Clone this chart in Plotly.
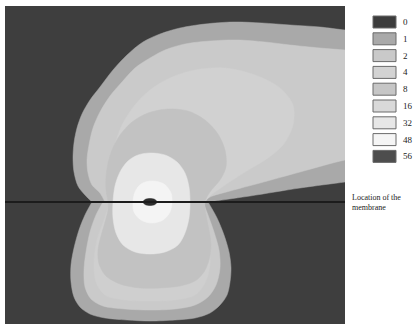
import plotly.graph_objects as go

# Outlines of each concentration band.
# x: mm from the source along the membrane, y: mm below the membrane (negative = above)
band1_up_x = [-58, -65, -72, -76, -77, -76, -73, -68, -60, -50, -37, -23, -7, 10, 30, 55, 83, 112, 140, 170, 195, 210, 210, 195, 150, 100, 58]
band1_up_y = [0, -7, -16, -30, -44, -59, -74, -88, -102, -115, -132, -147, -160, -168, -174, -178, -180, -179, -177, -175, -172, -171, -22, -20, -14, -6, 0]
band1_lo_x = [-58, -65, -71, -76, -79, -79, -76, -70, -60, -45, -23, 0, 25, 45, 60, 70, 77, 80, 81, 79, 74, 67, 58]
band1_lo_y = [0, 13, 28, 46, 63, 80, 95, 105, 112, 116, 118, 119, 118, 116, 111, 103, 93, 80, 66, 50, 33, 16, 0]

band2_up_x = [-45, -50, -58, -62, -63, -61, -57, -50, -40, -28, -15, 0, 15, 35, 60, 87, 115, 140, 170, 195, 210, 210, 195, 150, 110, 80, 60, 53]
band2_up_y = [0, -9, -17, -29, -42, -57, -74, -90, -106, -120, -134, -144, -152, -158, -161, -162, -160, -157, -154, -152, -151, -44, -42, -30, -19, -11, -5, 0]
band2_lo_x = [-47, -54, -60, -64, -66, -65, -59, -47, -25, 0, 25, 45, 58, 66, 70, 69, 64, 58, 53]
band2_lo_y = [0, 13, 30, 50, 68, 85, 97, 104, 107, 108, 107, 103, 95, 83, 66, 48, 30, 13, 0]

band4_up_x = [-35, -38, -38, -35, -28, -15, 0, 20, 45, 75, 105, 130, 143, 143, 133, 115, 95, 75, 60, 55]
band4_up_y = [0, -17, -37, -57, -77, -97, -112, -124, -132, -134, -127, -114, -97, -77, -57, -42, -30, -17, -6, 0]
band4_lo_x = [-40, -46, -53, -56, -54, -45, -25, 0, 25, 45, 55, 60, 59, 55, 53]
band4_lo_y = [0, 18, 38, 60, 80, 93, 98, 99, 98, 93, 81, 63, 43, 23, 0]

band8_x = [-42, -44, -44, -42, -38, -30, -18, -2, 18, 38, 55, 68, 75, 76, 70, 60, 55, 56, 59, 61, 59, 54, 45, 30, 10, -10, -30, -44, -51, -52, -49, -45, -42, -42]
band8_y = [0, -12, -25, -39, -52, -67, -80, -89, -93, -91, -82, -68, -52, -35, -22, -10, 0, 13, 28, 43, 58, 70, 79, 84, 86, 86, 82, 74, 62, 48, 34, 20, 8, 0]

band32_x = [0, 15, 27, 35, 39, 40, 39, 35, 28, 15, 0, -15, -27, -34, -37, -37, -35, -30, -22, -12, 0]
band32_y = [-49, -47, -40, -29, -15, 0, 16, 31, 43, 50, 52, 50, 43, 31, 16, 0, -16, -30, -41, -47, -49]

band48_x = [2, 14, 21, 22, 20, 13, 2, -9, -16, -17, -15, -9, 2]
band48_y = [-21, -18, -9, 0, 10, 18, 21, 18, 10, 0, -10, -18, -21]

band56_x = [0, 5, 7, 5, 0, -5, -7, -5, 0]
band56_y = [-3.5, -2.5, 0, 2.5, 3.5, 2.5, 0, -2.5, -3.5]

legend_labels = ["0", "1", "2", "4", "8", "16", "32", "48", "56"]
legend_colors = ["#3c3c3c", "#a9a9a9", "#c9c9c9", "#d3d3d3", "#c6c6c6",
                 "#d9d9d9", "#e7e7e7", "#f5f5f5", "#4d4d4d"]
background_color = "#3e3e3e"
membrane_y = 0
x_range = [-145, 195]
y_range = [122, -196]

regions = [
    (band1_up_x, band1_up_y, "#a9a9a9"),
    (band1_lo_x, band1_lo_y, "#a9a9a9"),
    (band2_up_x, band2_up_y, "#cacaca"),
    (band2_lo_x, band2_lo_y, "#cacaca"),
    (band4_up_x, band4_up_y, "#d1d1d1"),
    (band4_lo_x, band4_lo_y, "#cfcfcf"),
    (band8_x, band8_y, "#c2c2c2"),
    (band32_x, band32_y, "#e7e7e7"),
    (band48_x, band48_y, "#f4f4f4"),
    (band56_x, band56_y, "#2c2c2c"),
]

fig = go.Figure()
for xs, ys, col in regions:
    fig.add_trace(go.Scatter(
        x=xs, y=ys, mode="lines", fill="toself", fillcolor=col,
        line=dict(color=col, width=0.5, shape="spline", smoothing=0.9),
        hoverinfo="skip", showlegend=False,
    ))
fig.add_trace(go.Scatter(
    x=x_range, y=[membrane_y, membrane_y], mode="lines",
    line=dict(color="#1c1c1c", width=2), hoverinfo="skip", showlegend=False,
))

W, H = 415, 327
L, R, T, B = 5, 345, 6, 324


def px2paper(px, py):
    return (px - L) / (R - L), (B - py) / (B - T)


shapes = []
annotations = []
for i, (lab, col) in enumerate(zip(legend_labels, legend_colors)):
    top = 16 + 16.8 * i
    x0, y0 = px2paper(373, top + 12)
    x1, y1 = px2paper(396, top)
    shapes.append(dict(type="rect", xref="paper", yref="paper", x0=x0, y0=y0, x1=x1, y1=y1,
                       fillcolor=col, line=dict(color="#6a6a6a", width=1)))
    lx, ly = px2paper(402, top + 6)
    annotations.append(dict(xref="paper", yref="paper", x=lx, y=ly, text=lab, showarrow=False,
                            xanchor="left", yanchor="middle", borderpad=0,
                            font=dict(family="Liberation Serif", size=9, color="#222")))

ax, ay = px2paper(351, 202)
annotations.append(dict(xref="paper", yref="paper", x=ax, y=ay,
                        text="Location of the<br>membrane", showarrow=False,
                        xanchor="left", yanchor="middle", align="left", borderpad=0,
                        font=dict(family="Liberation Serif", size=8, color="#222")))

fig.update_layout(
    width=W, height=H,
    margin=dict(l=L, r=W - R, t=T, b=H - B, pad=0),
    paper_bgcolor="white", plot_bgcolor=background_color,
    xaxis=dict(range=x_range, visible=False, showgrid=False, zeroline=False, fixedrange=True),
    yaxis=dict(range=y_range, visible=False, showgrid=False, zeroline=False, fixedrange=True),
    shapes=shapes, annotations=annotations, showlegend=False,
)

fig.write_html("out.html", config={"displayModeBar": False},
               post_script="document.body.style.margin='0';")
